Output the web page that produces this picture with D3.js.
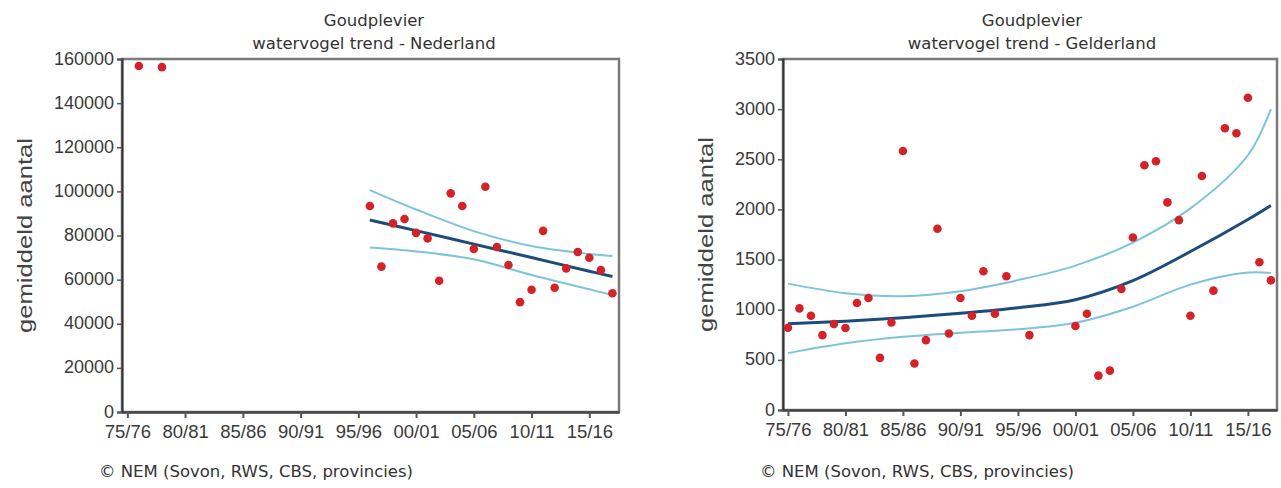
<!DOCTYPE html>
<html><head><meta charset="utf-8">
<script src="https://cdn.jsdelivr.net/npm/d3@7"></script>
<style>
html,body{margin:0;padding:0;background:#fff;}
svg{display:block;}
</style></head>
<body>
<svg id="c" width="1281" height="488"></svg>
<script>
// ---- data ----
const seasonTickYears = [1975,1980,1985,1990,1995,2000,2005,2010,2015];
const seasonTickLabels = ["75/76","80/81","85/86","90/91","95/96","00/01","05/06","10/11","15/16"];

// Nederland
const nlYears  = [1976,1978,1996,1997,1998,1999,2000,2001,2002,2003,2004,2005,2006,2007,2008,2009,2010,2011,2012,2013,2014,2015,2016,2017];
const nlValues = [156800,156300,93400,65900,85500,87500,81200,78700,59500,99100,93400,73900,102100,74800,66600,49800,55400,82100,56300,65100,72500,69900,64300,53800];
const nlTrendYears = [1996,2000,2005,2010,2015,2017];
const nlTrend      = [87000,82200,76100,70000,63800,61400];
const nlUpper      = [100600,91800,82000,75200,71600,70700];
const nlLower      = [74600,72800,69200,62100,55600,53000];
const nlYTicks = [0,20000,40000,60000,80000,100000,120000,140000,160000];

// Gelderland
const geYears  = [1975,1976,1977,1978,1979,1980,1981,1982,1983,1984,1985,1986,1987,1988,1989,1990,1991,1992,1993,1994,1996,2000,2001,2002,2003,2004,2005,2006,2007,2008,2009,2010,2011,2012,2013,2014,2015,2016,2017];
const geValues = [820,1013,940,747,857,817,1067,1117,520,873,2583,463,697,1807,763,1117,940,1383,960,1333,747,837,960,343,393,1207,1720,2440,2480,2070,1893,940,2333,1190,2810,2760,3113,1473,1293];
const geTrendYears = [1975,1980,1985,1990,1995,2000,2005,2010,2015,2017];
const geTrend      = [860,885,920,965,1020,1100,1290,1580,1900,2040];
const geUpper      = [1260,1165,1135,1185,1295,1440,1670,2010,2540,3000];
const geLower      = [567,665,730,770,805,870,1030,1250,1370,1365];
const geYTicks = [0,500,1000,1500,2000,2500,3000,3500];

const titleLine1 = "Goudplevier";
const nlTitle2 = "watervogel trend - Nederland";
const geTitle2 = "watervogel trend - Gelderland";
const yLabel = "gemiddeld aantal";
const footer = "\u00A9 NEM (Sovon, RWS, CBS, provincies)";

const svg = d3.select("#c");

function chart(o){
  const g = svg.append("g");
  const x = d3.scaleLinear().domain(o.xDomain).range([o.left, o.right]);
  const y = d3.scaleLinear().domain(o.yDomain).range([o.bottom, o.top]);

  // frame (top/right)
  g.append("rect").attr("x", o.left).attr("y", o.top)
    .attr("width", o.right-o.left).attr("height", o.bottom-o.top)
    .attr("fill","none").attr("stroke","#7a7a7a").attr("stroke-width",2.5);

  // y axis
  const ya = g.append("g").attr("transform",`translate(${o.left},0)`)
    .call(d3.axisLeft(y).tickValues(o.yTicks).tickFormat(d3.format("d")).tickSize(5).tickPadding(3));
  ya.select(".domain").attr("stroke","#333").attr("stroke-width",2);
  ya.selectAll(".tick line").attr("stroke","#555").attr("stroke-width",1.5);
  ya.selectAll("text").attr("font-family","Liberation Sans, Arial, sans-serif").attr("font-size",18)
    .attr("dy","0.28em").attr("fill","#3a3a3a");

  // x axis
  const xa = g.append("g").attr("transform",`translate(0,${o.bottom})`)
    .call(d3.axisBottom(x).tickValues(seasonTickYears).tickFormat((d,i)=>seasonTickLabels[i]).tickSize(6).tickPadding(7).tickSizeOuter(0));
  xa.select(".domain").attr("stroke","#444").attr("stroke-width",2.5);
  xa.selectAll(".tick line").attr("stroke","#555").attr("stroke-width",2);
  xa.selectAll("text").attr("font-family","Liberation Sans, Arial, sans-serif").attr("font-size",18.5).attr("fill","#3a3a3a");

  // lines
  const mk = (vals)=> d3.line().x((d,i)=>x(o.tYears[i])).y(d=>y(d)).curve(d3.curveCatmullRom.alpha(0.5))(vals);
  g.append("path").attr("d", mk(o.upper)).attr("fill","none").attr("stroke","#7cc3dc").attr("stroke-width",2);
  g.append("path").attr("d", mk(o.lower)).attr("fill","none").attr("stroke","#7cc3dc").attr("stroke-width",2);
  g.append("path").attr("d", mk(o.trend)).attr("fill","none").attr("stroke","#1c4c7c").attr("stroke-width",3);

  // points
  g.selectAll("circle.p").data(o.vals).join("circle")
    .attr("cx",(d,i)=>x(o.years[i])).attr("cy",d=>y(d)).attr("r",4.3).attr("fill","#d42328");

  // titles
  const cx = o.tcx;
  g.append("text").attr("x",cx).attr("y",26).attr("text-anchor","middle")
    .attr("font-family","DejaVu Sans, sans-serif").attr("font-size",16.5).attr("fill","#333").text(titleLine1);
  g.append("text").attr("x",cx).attr("y",49).attr("text-anchor","middle")
    .attr("font-family","DejaVu Sans, sans-serif").attr("font-size",16.5).attr("fill","#333").text(o.title2);

  // y label
  g.append("text").attr("transform",`translate(${o.ylx},${(o.top+o.bottom)/2}) rotate(-90) scale(1.28,1)`)
    .attr("text-anchor","middle").attr("dy","0.35em")
    .attr("font-family","Liberation Sans, Arial, sans-serif").attr("font-size",20).attr("fill","#444").text(yLabel);

  // footer
  g.append("text").attr("x",o.fx).attr("y",477)
    .attr("font-family","DejaVu Sans, sans-serif").attr("font-size",16.5).attr("fill","#333").text(footer);
}

chart({left:122, right:619, top:59, bottom:412, xDomain:[1974.54,2017.57], yDomain:[0,160000],
  yTicks:nlYTicks, years:nlYears, vals:nlValues, tYears:nlTrendYears, trend:nlTrend, upper:nlUpper, lower:nlLower,
  title2:nlTitle2, ylx:25, fx:99, tcx:374});
chart({left:783, right:1277, top:59, bottom:410, xDomain:[1974.57,2017.53], yDomain:[0,3500],
  yTicks:geYTicks, years:geYears, vals:geValues, tYears:geTrendYears, trend:geTrend, upper:geUpper, lower:geLower,
  title2:geTitle2, ylx:706, fx:760, tcx:1032});
</script>
</body></html>
